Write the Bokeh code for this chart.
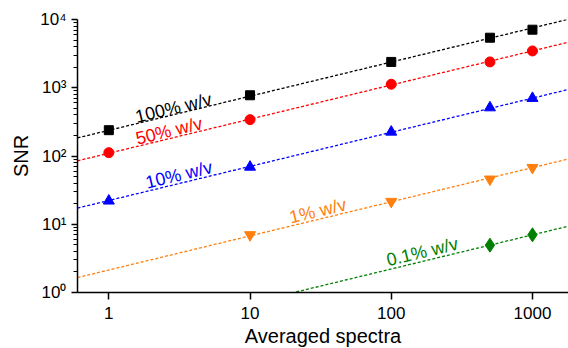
import numpy as np
from bokeh.plotting import figure
from bokeh.models import FixedTicker
from bokeh.embed import file_html
from bokeh.resources import INLINE
from bokeh.core.properties import value

# ---- data ----
spectra = [1, 10, 100, 500, 1000]
snr_100 = [239, 776, 2390, 5410, 7090]
snr_50 = [112, 341, 1125, 2390, 3460]
snr_10 = [22, 69, 225, 511, 702]
spectra_1 = [10, 100, 500, 1000]
snr_1 = [7.0, 21.5, 45.7, 67.6]
spectra_01 = [500, 1000]
snr_01 = [4.94, 7.0]

series_names = ["100% w/v", "50% w/v", "10% w/v", "1% w/v", "0.1% w/v"]
label_x = [2.87, 2.67, 3.14, 30.2, 166]
label_y = [506, 233, 52.9, 15.7, 3.94]

x_ticks = [1, 10, 100, 1000]
x_tick_labels = ["1", "10", "100", "1000"]
y_ticks = [1, 10, 100, 1000, 10000]
y_tick_labels = ["10\u2070", "10\u00b9", "10\u00b2", "10\u00b3", "10\u2074"]

X_RANGE = (0.6, 1800)
Y_RANGE = (1, 10000)
SLOPE = 0.5  # SNR ~ sqrt(N)

FONT = "Liberation Sans"
FW, FH = 491, 273

p = figure(x_axis_type="log", y_axis_type="log",
           x_range=X_RANGE, y_range=Y_RANGE,
           frame_width=FW, frame_height=FH,
           min_border_left=77, min_border_right=0,
           min_border_top=19, min_border_bottom=56,
           output_backend="svg", toolbar_location=None)
p.outline_line_color = None
p.grid.visible = False
p.background_fill_color = "white"
p.border_fill_color = "white"

# axes
p.xaxis.ticker = FixedTicker(ticks=x_ticks, minor_ticks=[])
p.xaxis.major_label_overrides = dict(zip(x_ticks, x_tick_labels))
minor = [k * 10 ** d for d in range(4) for k in range(2, 10)]
p.yaxis.ticker = FixedTicker(ticks=y_ticks, minor_ticks=minor)
p.yaxis.major_label_overrides = dict(zip(y_ticks, y_tick_labels))

for ax in (p.xaxis, p.yaxis):
    ax.axis_line_width = 1.5
    ax.axis_line_color = "black"
    ax.major_tick_line_width = 1.5
    ax.major_tick_line_color = "black"
    ax.minor_tick_line_width = 1.2
    ax.minor_tick_line_color = "black"
    ax.major_tick_in = 0
    ax.minor_tick_in = 0
    ax.major_label_text_font = FONT
    ax.major_label_text_font_size = "17px"
    ax.major_label_text_color = "black"
    ax.axis_label_text_font = FONT
    ax.axis_label_text_font_size = "20px"
    ax.axis_label_text_font_style = "normal"
    ax.axis_label_text_color = "black"

p.xaxis.major_tick_out = 7
p.xaxis.major_label_standoff = 7
p.xaxis.axis_label = "Averaged spectra"
p.xaxis.axis_label_standoff = 3
p.yaxis.major_tick_out = 6
p.yaxis.minor_tick_out = 4
p.yaxis.major_label_standoff = 5
p.yaxis.axis_label = "SNR"
p.yaxis.axis_label_standoff = 5

colors = ["black", "#ff0000", "#0000ff", "#ff7f0e", "#008000"]
markers = ["square", "circle", "triangle", "inverted_triangle", "diamond"]
sizes = [9, 10, 11, 11, 14]
xs = [spectra, spectra, spectra, spectra_1, spectra_01]
ys = [snr_100, snr_50, snr_10, snr_1, snr_01]

x_line = np.array(X_RANGE, dtype=float)
for x, y, c, m, s in zip(xs, ys, colors, markers, sizes):
    lx = np.log10(np.array(x, dtype=float))
    ly = np.log10(np.array(y, dtype=float))
    intercept = np.mean(ly - SLOPE * lx)
    y_line = 10 ** (intercept + SLOPE * np.log10(x_line))
    p.line(x_line, y_line, line_color=c, line_width=1.3, line_dash="3 2")
    p.scatter(x, y, marker=m, size=s, fill_color=c, line_color=c)

# rotated series labels
dec_x = FW / np.log10(X_RANGE[1] / X_RANGE[0])
dec_y = FH / np.log10(Y_RANGE[1] / Y_RANGE[0])
ang = float(np.degrees(np.arctan(SLOPE * dec_y / dec_x)))
p.text(x=label_x, y=label_y, text=series_names, angle=ang, angle_units="deg",
       text_align="center", text_baseline="middle", text_font_size="18px",
       text_color=colors, text_font=value(FONT))

open("out.html", "w").write(file_html(p, INLINE))
